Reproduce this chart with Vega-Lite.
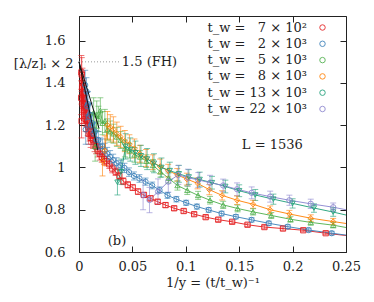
{
 "$schema": "https://vega.github.io/schema/vega-lite/v6.json",
 "width": 267, "height": 236,
 "autosize": {"type": "none"},
 "padding": {"left": 79, "top": 16, "right": 28, "bottom": 50},
 "background": "white",
 "config": {
  "view": {"stroke": "#222", "strokeWidth": 1},
  "font": "DejaVu Serif",
  "scale": {"continuousPadding": 0},
  "axis": {"labelFont": "DejaVu Serif", "labelFontSize": 13, "labelColor": "#222", "titleFont": "DejaVu Serif", "titleFontSize": 13, "titleFontWeight": "normal", "titleColor": "#222", "domainColor": "#222", "tickColor": "#222", "grid": false, "tickSize": -6, "labelPadding": 16, "labelFlush": false},
  "legend": {"labelFont": "DejaVu Serif", "labelFontSize": 13, "labelColor": "#222", "symbolSize": 30, "symbolStrokeWidth": 1, "padding": 0, "labelLimit": 0, "rowPadding": 2.3, "labelAlign": "right", "labelOffset": -22, "title": null}
 },
 "datasets": {
  "pts": [
   {"s":"a","x":0.002,"y":1.33,"e":0.08},{"s":"a","x":0.0022,"y":1.45,"e":0.08},{"s":"a","x":0.0024,"y":1.22,"e":0.08},{"s":"a","x":0.0026,"y":1.44,"e":0.08},{"s":"a","x":0.0029,"y":1.38,"e":0.07},{"s":"a","x":0.0032,"y":1.40,"e":0.07},{"s":"a","x":0.0035,"y":1.30,"e":0.07},{"s":"a","x":0.0038,"y":1.35,"e":0.07},{"s":"a","x":0.0042,"y":1.33,"e":0.07},{"s":"a","x":0.0046,"y":1.27,"e":0.06},{"s":"a","x":0.0051,"y":1.30,"e":0.06},{"s":"a","x":0.0056,"y":1.28,"e":0.06},{"s":"a","x":0.0062,"y":1.23,"e":0.06},{"s":"a","x":0.0068,"y":1.25,"e":0.055},{"s":"a","x":0.0075,"y":1.22,"e":0.05},{"s":"a","x":0.0082,"y":1.20,"e":0.05},{"s":"a","x":0.009,"y":1.16,"e":0.05},{"s":"a","x":0.0099,"y":1.17,"e":0.045},{"s":"a","x":0.0109,"y":1.14,"e":0.045},{"s":"a","x":0.012,"y":1.15,"e":0.04},{"s":"a","x":0.0132,"y":1.13,"e":0.04},{"s":"a","x":0.0146,"y":1.11,"e":0.035},{"s":"a","x":0.016,"y":1.10,"e":0.035},{"s":"a","x":0.0176,"y":1.08,"e":0.03},{"s":"a","x":0.0194,"y":1.065,"e":0.03},{"s":"a","x":0.0213,"y":1.05,"e":0.025},{"s":"a","x":0.0235,"y":1.04,"e":0.025},{"s":"a","x":0.0258,"y":1.03,"e":0.022},{"s":"a","x":0.0284,"y":1.015,"e":0.02},{"s":"a","x":0.0312,"y":0.995,"e":0.02},{"s":"a","x":0.0343,"y":0.98,"e":0.018},{"s":"a","x":0.0378,"y":0.96,"e":0.017},{"s":"a","x":0.0415,"y":0.935,"e":0.016},{"s":"a","x":0.0457,"y":0.918,"e":0.015},{"s":"a","x":0.0503,"y":0.905,"e":0.014},{"s":"a","x":0.0553,"y":0.886,"e":0.013},{"s":"a","x":0.0608,"y":0.87,"e":0.012},{"s":"a","x":0.0669,"y":0.854,"e":0.012},{"s":"a","x":0.0736,"y":0.838,"e":0.011},{"s":"a","x":0.081,"y":0.822,"e":0.011},{"s":"a","x":0.0891,"y":0.807,"e":0.01},{"s":"a","x":0.098,"y":0.794,"e":0.01},{"s":"a","x":0.1078,"y":0.779,"e":0.009},{"s":"a","x":0.1186,"y":0.765,"e":0.009},{"s":"a","x":0.1304,"y":0.753,"e":0.009},{"s":"a","x":0.1434,"y":0.743,"e":0.008},{"s":"a","x":0.1578,"y":0.729,"e":0.008},{"s":"a","x":0.1736,"y":0.718,"e":0.008},{"s":"a","x":0.191,"y":0.711,"e":0.008},{"s":"a","x":0.21,"y":0.703,"e":0.007},{"s":"a","x":0.231,"y":0.689,"e":0.007},{"s":"a","x":0.25,"y":0.678,"e":null},
   {"s":"b","x":0.0058,"y":1.39,"e":0.07},{"s":"b","x":0.0063,"y":1.18,"e":0.07},{"s":"b","x":0.007,"y":1.36,"e":0.065},{"s":"b","x":0.0077,"y":1.29,"e":0.065},{"s":"b","x":0.0084,"y":1.30,"e":0.06},{"s":"b","x":0.0093,"y":1.24,"e":0.06},{"s":"b","x":0.0102,"y":1.25,"e":0.055},{"s":"b","x":0.0112,"y":1.20,"e":0.055},{"s":"b","x":0.0123,"y":1.21,"e":0.05},{"s":"b","x":0.0136,"y":1.16,"e":0.05},{"s":"b","x":0.0149,"y":1.17,"e":0.045},{"s":"b","x":0.0164,"y":1.13,"e":0.045},{"s":"b","x":0.0181,"y":1.13,"e":0.04},{"s":"b","x":0.0199,"y":1.10,"e":0.04},{"s":"b","x":0.0219,"y":1.10,"e":0.035},{"s":"b","x":0.024,"y":1.08,"e":0.035},{"s":"b","x":0.0264,"y":1.065,"e":0.03},{"s":"b","x":0.0291,"y":1.05,"e":0.03},{"s":"b","x":0.032,"y":1.035,"e":0.028},{"s":"b","x":0.0352,"y":1.02,"e":0.026},{"s":"b","x":0.0387,"y":1.01,"e":0.024},{"s":"b","x":0.0426,"y":0.998,"e":0.022},{"s":"b","x":0.0468,"y":0.978,"e":0.02},{"s":"b","x":0.0515,"y":0.96,"e":0.019},{"s":"b","x":0.0566,"y":0.948,"e":0.018},{"s":"b","x":0.0623,"y":0.933,"e":0.017},{"s":"b","x":0.0685,"y":0.915,"e":0.016},{"s":"b","x":0.0754,"y":0.893,"e":0.015},{"s":"b","x":0.0829,"y":0.868,"e":0.014},{"s":"b","x":0.0912,"y":0.85,"e":0.013},{"s":"b","x":0.1003,"y":0.833,"e":0.012},{"s":"b","x":0.1104,"y":0.815,"e":0.012},{"s":"b","x":0.1214,"y":0.799,"e":0.011},{"s":"b","x":0.1335,"y":0.782,"e":0.011},{"s":"b","x":0.1469,"y":0.767,"e":0.01},{"s":"b","x":0.1616,"y":0.752,"e":0.01},{"s":"b","x":0.1777,"y":0.736,"e":0.01},{"s":"b","x":0.1955,"y":0.72,"e":0.009},{"s":"b","x":0.215,"y":0.704,"e":0.009},{"s":"b","x":0.2366,"y":0.689,"e":0.009},{"s":"b","x":0.25,"y":0.68,"e":null},
   {"s":"c","x":0.0137,"y":1.26,"e":0.07},{"s":"c","x":0.0151,"y":1.10,"e":0.07},{"s":"c","x":0.0166,"y":1.25,"e":0.065},{"s":"c","x":0.0182,"y":1.23,"e":0.06},{"s":"c","x":0.02,"y":1.27,"e":0.06},{"s":"c","x":0.022,"y":1.21,"e":0.055},{"s":"c","x":0.0242,"y":1.22,"e":0.055},{"s":"c","x":0.0267,"y":1.18,"e":0.05},{"s":"c","x":0.0293,"y":1.17,"e":0.05},{"s":"c","x":0.0323,"y":1.16,"e":0.045},{"s":"c","x":0.0355,"y":1.145,"e":0.045},{"s":"c","x":0.039,"y":1.13,"e":0.04},{"s":"c","x":0.043,"y":1.09,"e":0.04},{"s":"c","x":0.0473,"y":1.08,"e":0.035},{"s":"c","x":0.052,"y":1.06,"e":0.035},{"s":"c","x":0.0572,"y":1.05,"e":0.03},{"s":"c","x":0.063,"y":1.03,"e":0.03},{"s":"c","x":0.0693,"y":1.01,"e":0.028},{"s":"c","x":0.0762,"y":0.98,"e":0.026},{"s":"c","x":0.0838,"y":0.95,"e":0.024},{"s":"c","x":0.0922,"y":0.915,"e":0.022},{"s":"c","x":0.1014,"y":0.892,"e":0.02},{"s":"c","x":0.1115,"y":0.868,"e":0.019},{"s":"c","x":0.1227,"y":0.845,"e":0.018},{"s":"c","x":0.135,"y":0.823,"e":0.017},{"s":"c","x":0.1485,"y":0.806,"e":0.016},{"s":"c","x":0.163,"y":0.79,"e":0.015},{"s":"c","x":0.18,"y":0.773,"e":0.014},{"s":"c","x":0.198,"y":0.755,"e":0.014},{"s":"c","x":0.217,"y":0.74,"e":0.013},{"s":"c","x":0.238,"y":0.727,"e":0.013},{"s":"c","x":0.25,"y":0.716,"e":null},
   {"s":"d","x":0.022,"y":1.03,"e":0.07},{"s":"d","x":0.0242,"y":1.08,"e":0.07},{"s":"d","x":0.0266,"y":1.20,"e":0.065},{"s":"d","x":0.0293,"y":1.19,"e":0.06},{"s":"d","x":0.0322,"y":1.18,"e":0.06},{"s":"d","x":0.0354,"y":1.16,"e":0.055},{"s":"d","x":0.039,"y":1.145,"e":0.05},{"s":"d","x":0.0429,"y":1.125,"e":0.05},{"s":"d","x":0.0472,"y":1.11,"e":0.045},{"s":"d","x":0.0519,"y":1.09,"e":0.045},{"s":"d","x":0.057,"y":1.065,"e":0.04},{"s":"d","x":0.0628,"y":1.045,"e":0.04},{"s":"d","x":0.069,"y":1.025,"e":0.035},{"s":"d","x":0.076,"y":1.005,"e":0.035},{"s":"d","x":0.0835,"y":0.985,"e":0.03},{"s":"d","x":0.092,"y":0.965,"e":0.03},{"s":"d","x":0.101,"y":0.945,"e":0.028},{"s":"d","x":0.111,"y":0.925,"e":0.026},{"s":"d","x":0.122,"y":0.895,"e":0.024},{"s":"d","x":0.134,"y":0.868,"e":0.022},{"s":"d","x":0.148,"y":0.845,"e":0.02},{"s":"d","x":0.163,"y":0.826,"e":0.019},{"s":"d","x":0.179,"y":0.80,"e":0.018},{"s":"d","x":0.197,"y":0.78,"e":0.017},{"s":"d","x":0.217,"y":0.76,"e":0.016},{"s":"d","x":0.238,"y":0.744,"e":0.015},{"s":"d","x":0.25,"y":0.735,"e":null},
   {"s":"e","x":0.036,"y":0.93,"e":0.06},{"s":"e","x":0.0396,"y":0.98,"e":0.06},{"s":"e","x":0.0436,"y":1.10,"e":0.06},{"s":"e","x":0.048,"y":1.085,"e":0.055},{"s":"e","x":0.0528,"y":1.07,"e":0.055},{"s":"e","x":0.058,"y":1.055,"e":0.05},{"s":"e","x":0.0638,"y":1.04,"e":0.05},{"s":"e","x":0.0702,"y":1.02,"e":0.045},{"s":"e","x":0.0772,"y":1.0,"e":0.045},{"s":"e","x":0.085,"y":0.985,"e":0.04},{"s":"e","x":0.0935,"y":0.97,"e":0.04},{"s":"e","x":0.1028,"y":0.955,"e":0.035},{"s":"e","x":0.113,"y":0.943,"e":0.035},{"s":"e","x":0.1245,"y":0.928,"e":0.03},{"s":"e","x":0.137,"y":0.91,"e":0.03},{"s":"e","x":0.15,"y":0.89,"e":0.028},{"s":"e","x":0.165,"y":0.87,"e":0.026},{"s":"e","x":0.182,"y":0.85,"e":0.024},{"s":"e","x":0.2,"y":0.83,"e":0.022},{"s":"e","x":0.22,"y":0.808,"e":0.02},{"s":"e","x":0.238,"y":0.789,"e":0.02},{"s":"e","x":0.25,"y":0.775,"e":null},
   {"s":"f","x":0.06,"y":0.87,"e":0.07},{"s":"f","x":0.066,"y":0.846,"e":0.06},{"s":"f","x":0.074,"y":0.886,"e":0.06},{"s":"f","x":0.0836,"y":0.933,"e":0.05},{"s":"f","x":0.093,"y":0.965,"e":0.045},{"s":"f","x":0.102,"y":0.952,"e":0.04},{"s":"f","x":0.1117,"y":0.941,"e":0.035},{"s":"f","x":0.1227,"y":0.928,"e":0.035},{"s":"f","x":0.135,"y":0.915,"e":0.03},{"s":"f","x":0.148,"y":0.897,"e":0.03},{"s":"f","x":0.1617,"y":0.88,"e":0.028},{"s":"f","x":0.179,"y":0.862,"e":0.026},{"s":"f","x":0.197,"y":0.845,"e":0.024},{"s":"f","x":0.217,"y":0.828,"e":0.022},{"s":"f","x":0.238,"y":0.812,"e":0.02},{"s":"f","x":0.25,"y":0.80,"e":null}
  ],
  "fit": [
   {"g":"f1","x":0,"y":1.5},{"g":"f1","x":0.0175,"y":1.083},
   {"g":"f2","x":0,"y":1.5},{"g":"f2","x":0.0187,"y":1.186}
  ],
  "ann": [
   {"x":0.066,"y":1.497,"t":"1.5 (FH)"},
   {"x":0.181,"y":1.106,"t":"L = 1536"},
   {"x":0.0356,"y":0.652,"t":"(b)"}
  ]
 },
 "layer": [
  {
   "data": {"values": [{"x": 0, "x2": 0.038, "y": 1.5}]},
   "mark": {"type": "rule", "color": "#999", "strokeWidth": 1, "strokeDash": [1, 2]},
   "encoding": {
    "x": {"field": "x", "type": "quantitative", "scale": {"domain": [0, 0.25], "nice": false, "zero": false, "padding": 0}, "axis": {"orient": "bottom", "values": [0, 0.05, 0.1, 0.15, 0.2, 0.25], "format": ".2~f", "title": "1/y = (t/t_w)⁻¹", "titlePadding": 3, "labelPadding": 14}},
    "x2": {"field": "x2"},
    "y": {"field": "y", "type": "quantitative", "scale": {"domain": [0.6, 1.717], "nice": false, "zero": false, "padding": 0}, "axis": {"orient": "left", "values": [0.6, 0.8, 1, 1.2, 1.4, 1.6], "format": ".1~f", "labelPadding": 20, "title": "[λ/z]ᵢ × 2", "titleAngle": 0, "titleAlign": "right", "titleBaseline": "middle", "titleX": -6, "titleY": 47}}
   }
  },
  {
   "data": {"name": "pts"},
   "mark": {"type": "line", "strokeWidth": 1, "opacity": 0.9},
   "encoding": {
    "x": {"field": "x", "type": "quantitative", "axis": null},
    "y": {"field": "y", "type": "quantitative", "axis": null},
    "color": {"field": "s", "type": "nominal", "scale": {"domain": ["a","b","c","d","e","f"], "range": ["#e41a1c","#377eb8","#4daf4a","#ff7f00","#1b9e77","#8a84cf"]}, "legend": null},
    "order": {"field": "x", "type": "quantitative"}
   }
  },
  {
   "data": {"name": "pts"},
   "transform": [{"filter": "isValid(datum.e)"}],
   "mark": {"type": "errorbar", "ticks": {"size": 6}, "thickness": 1, "opacity": 0.6},
   "encoding": {
    "x": {"field": "x", "type": "quantitative", "axis": null},
    "y": {"field": "y", "type": "quantitative", "axis": null},
    "yError": {"field": "e"},
    "color": {"field": "s", "type": "nominal", "scale": {"domain": ["a","b","c","d","e","f"], "range": ["#e41a1c","#377eb8","#4daf4a","#ff7f00","#1b9e77","#8a84cf"]}, "legend": null}
   }
  },
  {
   "data": {"name": "pts"},
   "transform": [{"filter": "isValid(datum.e)"}],
   "mark": {"type": "point", "filled": false, "size": 28, "strokeWidth": 1, "opacity": 0.85},
   "encoding": {
    "x": {"field": "x", "type": "quantitative", "axis": null},
    "y": {"field": "y", "type": "quantitative", "axis": null},
    "color": {"field": "s", "type": "nominal", "scale": {"domain": ["a","b","c","d","e","f"], "range": ["#e41a1c","#377eb8","#4daf4a","#ff7f00","#1b9e77","#8a84cf"]}, "legend": {"orient": "none", "legendX": 237, "legendY": 5, "labelExpr": "{'a':'t_w = \u20077 × 10²','b':'t_w = \u20072 × 10³','c':'t_w = \u20075 × 10³','d':'t_w = \u20078 × 10³','e':'t_w = 13 × 10³','f':'t_w = 22 × 10³'}[datum.value]", "encode": {"symbols": {"update": {"shape": {"scale": "shape", "field": "value"}}}}}},
    "shape": {"field": "s", "type": "nominal", "scale": {"domain": ["a","b","c","d","e","f"], "range": ["square","circle","triangle-up","diamond","triangle-down","circle"]}, "legend": null}
   }
  },
  {
   "data": {"name": "fit"},
   "mark": {"type": "line", "color": "#111", "strokeWidth": 1},
   "encoding": {
    "x": {"field": "x", "type": "quantitative", "axis": {"orient": "top", "values": [0, 0.05, 0.1, 0.15, 0.2, 0.25], "labels": false, "title": null, "domain": false}},
    "y": {"field": "y", "type": "quantitative", "axis": {"orient": "right", "values": [0.6, 0.8, 1, 1.2, 1.4, 1.6], "labels": false, "title": null, "domain": false}},
    "detail": {"field": "g"}
   }
  },
  {
   "data": {"name": "ann"},
   "mark": {"type": "text", "font": "DejaVu Serif", "fontSize": 13, "color": "#222", "align": "center", "baseline": "middle"},
   "encoding": {
    "x": {"field": "x", "type": "quantitative", "axis": null},
    "y": {"field": "y", "type": "quantitative", "axis": null},
    "text": {"field": "t"}
   }
  }
 ],
 "resolve": {"axis": {"x": "independent", "y": "independent"}, "scale": {"color": "independent"}, "legend": {"color": "independent"}}
}
